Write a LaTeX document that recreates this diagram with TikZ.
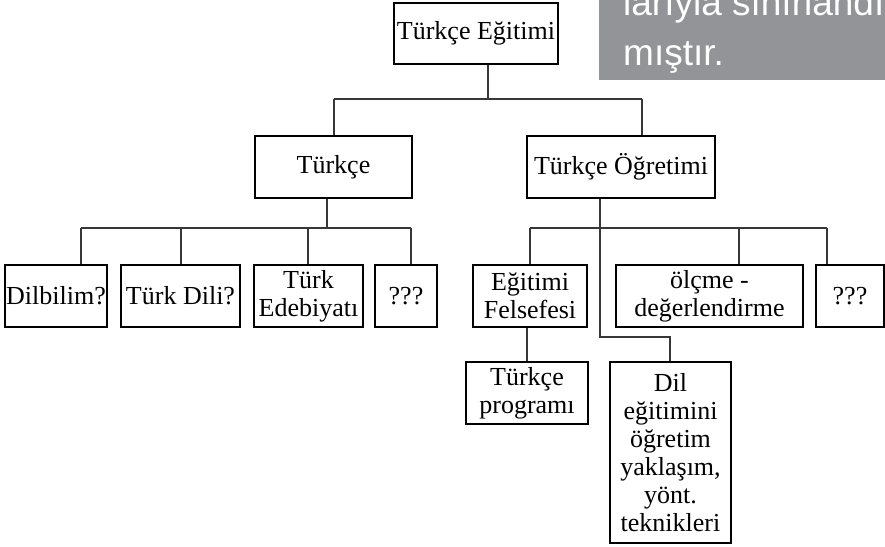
\documentclass[tikz,border=0pt]{standalone}
\usepackage{fontspec}
\setmainfont{Liberation Serif}
\newfontfamily\graysans{Liberation Sans}
\definecolor{greybox}{RGB}{147,148,152}
\definecolor{connc}{RGB}{55,55,55}
\begin{document}
\begin{tikzpicture}[x=1pt,y=-1pt,
  box/.style={draw=black,line width=1.2pt,rectangle,align=center,inner sep=1pt,
     font=\fontsize{26}{28}\selectfont,minimum height=62pt},
  conn/.style={draw=connc,line width=1.3pt}]
\useasboundingbox (0,0) rectangle (885,546);
% grey box
\fill[greybox] (599,0) rectangle (885,80);
\begin{scope}
\clip (599,0) rectangle (885,80);
\node[anchor=base west,text=white,inner sep=0pt,font=\graysans\fontsize{37}{40}\selectfont] (g1) at (623,15) {larıyla sınırlandırıl-};
\node[anchor=base west,text=white,inner sep=0pt,font=\graysans\fontsize{37}{40}\selectfont] (g2) at (623,65) {mıştır.};
\end{scope}
% boxes
\node[box,minimum width=164pt,minimum height=61pt] (top) at (476,33.5) {Türkçe Eğitimi};
\node[box,minimum width=157pt] (tk) at (333.5,167) {Türkçe};
\node[box,minimum width=188pt] (to) at (621,167) {Türkçe Öğretimi};
\node[box,minimum width=102pt] (dil) at (56,296) {Dilbilim?};
\node[box,minimum width=119pt] (td) at (180.5,296) {Türk Dili?};
\node[box,minimum width=109pt] (ed) at (308.5,296) {Türk\\Edebiyatı};
\node[box,minimum width=62pt] (q1) at (406,296) {???};
\node[box,minimum width=114pt] (ef) at (530,296) {Eğitimi\\Felsefesi};
\node[box,minimum width=187pt] (ol) at (709.5,296) {ölçme -\\değerlendirme};
\node[box,minimum width=68pt] (q2) at (850,296) {???};
\node[box,minimum width=122pt] (tp) at (527,393) {Türkçe\\programı};
\node[box,minimum width=121pt,minimum height=181pt] (dy) at (670.5,452.5) {Dil\\eğitimini\\öğretim\\yaklaşım,\\yönt.\\teknikleri};
% connectors
\coordinate (t0) at (488,99);
\coordinate (l0) at (334,99);
\coordinate (r0) at (642,99);
\draw[conn] (top.south -| t0) -- (t0);
\draw[conn] (l0) -- (r0);
\draw[conn] (l0) -- (l0 |- tk.north);
\draw[conn] (r0) -- (r0 |- to.north);
% left bus
\coordinate (lb) at (327,228);
\coordinate (la) at (81,228);
\coordinate (lc) at (181,228);
\coordinate (ld) at (308,228);
\coordinate (lz) at (411,228);
\draw[conn] (tk.south -| lb) -- (lb);
\draw[conn] (la) -- (lz);
\draw[conn] (la) -- (la |- dil.north);
\draw[conn] (lc) -- (lc |- td.north);
\draw[conn] (ld) -- (ld |- ed.north);
\draw[conn] (lz) -- (lz |- q1.north);
% right bus
\coordinate (ra) at (530,228);
\coordinate (rb) at (600,228);
\coordinate (rc) at (739,228);
\coordinate (rz) at (827,228);
\coordinate (rk) at (600,337);
\coordinate (rm) at (670,337);
\draw[conn] (ra) -- (rz);
\draw[conn] (to.south -| rb) -- (rk) -- (rm) -- (rm |- dy.north);
\draw[conn] (ra) -- (ra |- ef.north);
\draw[conn] (rc) -- (rc |- ol.north);
\draw[conn] (rz) -- (rz |- q2.north);
\coordinate (ea) at (527,330);
\draw[conn] (ef.south -| ea) -- (ea |- tp.north);
\end{tikzpicture}
\end{document}
